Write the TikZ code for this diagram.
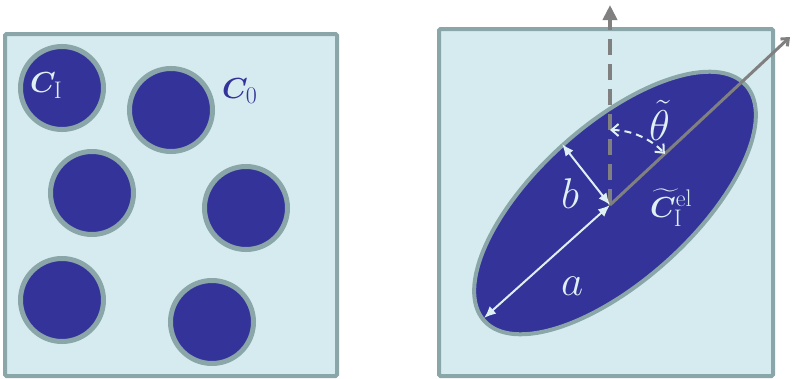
\RequirePackage{fix-cm}
\documentclass[tikz,border=0pt]{standalone}
\usepackage{amsmath,bm}
\usetikzlibrary{arrows.meta,shapes.geometric}
\DeclareMathSizes{29}{29}{24}{19}
\DeclareMathSizes{43}{43}{30}{22}
\definecolor{panelfill}{HTML}{D6EBEF}
\definecolor{panelline}{HTML}{8AA6A8}
\definecolor{inclblue}{HTML}{333399}
\definecolor{axisgrey}{HTML}{808080}
\definecolor{lightwhite}{HTML}{DEF0F3}
\begin{document}
\begin{tikzpicture}[x=1pt,y=-1pt,
  panel/.style={draw=panelline,fill=panelfill,line width=4pt,rounded corners=1.5pt,inner sep=0pt},
  incl/.style={circle,draw=panelline,fill=inclblue,line width=5pt,minimum size=83pt,inner sep=0pt},
  ellincl/.style={ellipse,draw=panelline,fill=inclblue,line width=4pt,inner sep=0pt},
  smalllab/.style={anchor=base west,inner sep=0pt,font=\fontsize{29}{29}\selectfont},
  biglab/.style={anchor=base west,inner sep=0pt,font=\fontsize{43}{43}\selectfont,text=lightwhite},
  dimarrow/.style={draw=lightwhite,line width=2pt,{Latex[length=12pt,width=10pt]}-{Latex[length=12pt,width=10pt]}},
  anglearrow/.style={draw=lightwhite,line width=2pt,dash pattern=on 7pt off 5pt,{Straight Barb[length=7pt,width=12pt]}-{Straight Barb[length=7pt,width=12pt]}},
  vaxis/.style={draw=axisgrey,line width=4pt,dash pattern=on 16pt off 9pt,-{Triangle[length=15pt,width=14pt]}},
  maxis/.style={draw=axisgrey,line width=3pt,-{Straight Barb[length=6pt,width=10pt]}}
]
\useasboundingbox (0,0) rectangle (792,378);
% left panel
\node[panel,minimum width=332pt,minimum height=342pt] (L) at (171,205) {};
\node[incl] (c1) at (62,88) {};
\node[incl] (c2) at (171,110) {};
\node[incl] (c3) at (92,193) {};
\node[incl] (c4) at (246,208) {};
\node[incl] (c5) at (62,300) {};
\node[incl] (c6) at (212,322) {};
\node[smalllab,text=lightwhite] (lCI) at (30,92) {$\bm{C}_{\mathrm{I}}$};
\node[smalllab,text=inclblue] (lC0) at (222,98) {$\bm{C}_{0}$};
% right panel
\node[panel,minimum width=334pt,minimum height=347pt] (R) at (606,202.5) {};
\node[ellincl,rotate=42,minimum width=352pt,minimum height=156pt] (el) at (615,203) {};
\coordinate (O) at (610,205);
\coordinate (vtop) at (610,5);
\coordinate (mtop) at (790,37);
\coordinate (aend) at (484,318);
\coordinate (bend) at (562,144);
\coordinate (p1) at (610,130);
\draw[vaxis] (O) -- (vtop);
\draw[maxis] (O) -- (mtop);
\draw[anglearrow] (p1) arc[start angle=-90,end angle=-43,radius=75];
\draw[dimarrow] (aend) -- (O);
\draw[dimarrow] (bend) -- (O);
\node[biglab] (lb) at (561,208) {$b$};
\node[biglab] (la) at (561,295) {$a$};
\node[biglab] (lth) at (649,140) {$\tilde{\theta}$};
\node[smalllab,text=lightwhite] (lCel) at (650,217) {$\widetilde{\bm{C}}_{\mathrm{I}}^{\mathrm{el}}$};
\end{tikzpicture}
\end{document}
